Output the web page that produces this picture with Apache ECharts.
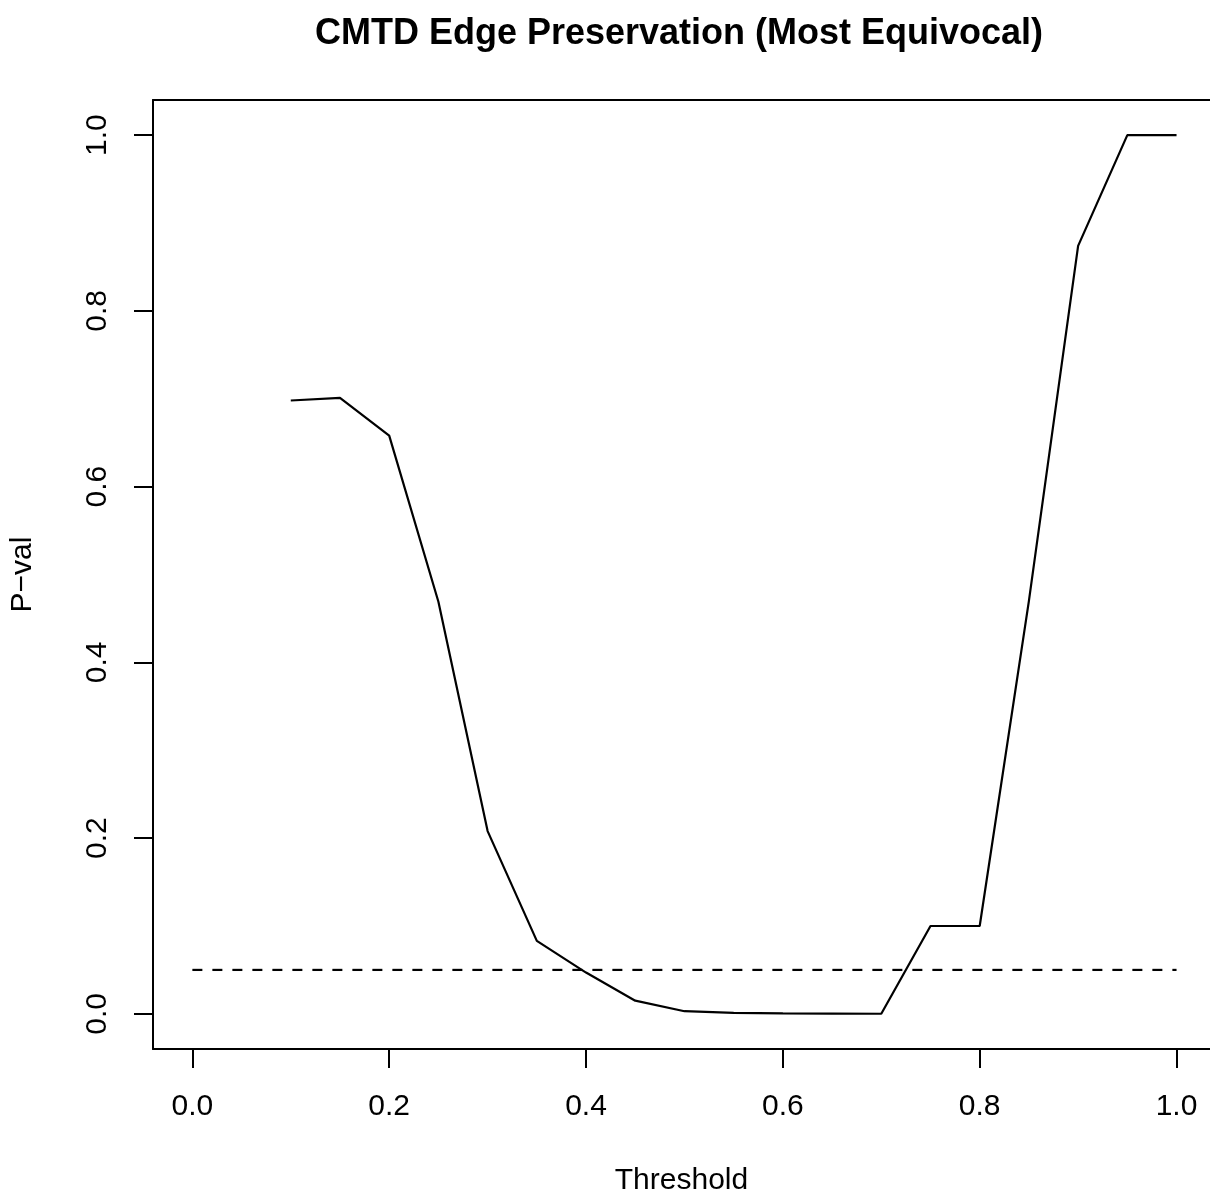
<!DOCTYPE html>
<html>
<head>
<meta charset="utf-8">
<script src="https://cdn.jsdelivr.net/npm/echarts@6/dist/echarts.min.js"></script>
<style>
html,body{margin:0;padding:0;background:#fff;}
#chart{width:1210px;height:1201px;}
</style>
</head>
<body>
<div id="chart"></div>
<script>
// Data
const thresholds = [0.10,0.15,0.20,0.25,0.30,0.35,0.40,0.45,0.50,0.55,0.60,0.65,0.70,0.75,0.80,0.85,0.90,0.95,1.00];
const pvals      = [0.698,0.701,0.658,0.469,0.208,0.083,0.047,0.015,0.003,0.001,0.0005,0.0003,0.0001,0.100,0.100,0.470,0.874,1.000,1.000];
const cutoffX = [0, 1];
const cutoffY = 0.05;
const xTicks = [0, 0.2, 0.4, 0.6, 0.8, 1.0];
const yTicks = [0, 0.2, 0.4, 0.6, 0.8, 1.0];
const titleText = 'CMTD Edge Preservation (Most Equivocal)';
const xName = 'Threshold';
const yName = 'P\u2212val';

const FONT = '"Liberation Sans", Arial, Helvetica, sans-serif';
const chart = echarts.init(document.getElementById('chart'), null, {renderer: 'canvas'});

const lineData = thresholds.map((t, i) => [t, pvals[i]]);
const cutData = cutoffX.map(x => [x, cutoffY]);

// the plot frame of the reference is cut off at the right edge of the image
const X_MIN = -0.04, X_MAX = 1.034, Y_MIN = -0.04, Y_MAX = 1.04;
const frameLine = {show: true, onZero: false, lineStyle: {color: '#000', width: 2}};

chart.setOption({
  backgroundColor: '#ffffff',
  animation: false,
  title: {
    text: titleText,
    left: 674,
    top: 11,
    textAlign: 'center',
    textStyle: {fontFamily: FONT, fontSize: 36, fontWeight: 'bold', color: '#000'}
  },
  grid: {left: 153, top: 100, right: 0, bottom: 149, show: false},
  xAxis: [{
    type: 'value', min: X_MIN, max: X_MAX, position: 'bottom',
    name: xName, nameLocation: 'middle', nameGap: 117,
    nameTextStyle: {fontFamily: FONT, fontSize: 30, color: '#000'},
    axisLine: frameLine,
    splitLine: {show: false},
    axisTick: {show: true, length: 19, lineStyle: {color: '#000', width: 2}, customValues: xTicks},
    axisLabel: {show: true, margin: 43, fontFamily: FONT, fontSize: 30, color: '#000',
      customValues: xTicks, formatter: v => v.toFixed(1)}
  }, {
    type: 'value', min: X_MIN, max: X_MAX, position: 'top',
    axisLine: frameLine, axisTick: {show: false}, axisLabel: {show: false}, splitLine: {show: false}
  }],
  yAxis: {
    type: 'value', min: Y_MIN, max: Y_MAX,
    name: yName, nameLocation: 'middle', nameGap: 115,
    nameTextStyle: {fontFamily: FONT, fontSize: 30, color: '#000'},
    axisLine: frameLine,
    splitLine: {show: false},
    axisTick: {show: true, length: 19, lineStyle: {color: '#000', width: 2}, customValues: yTicks},
    axisLabel: {show: true, margin: 40, rotate: 90, fontFamily: FONT, fontSize: 30, color: '#000',
      customValues: yTicks, formatter: v => v.toFixed(1)}
  },
  series: [
    {
      type: 'line', data: lineData, symbol: 'none', smooth: false,
      lineStyle: {color: '#000', width: 2.2}
    },
    {
      type: 'line', data: cutData, symbol: 'none',
      lineStyle: {color: '#000', width: 2.2, type: [10, 10]}
    }
  ]
});
</script>
</body>
</html>
